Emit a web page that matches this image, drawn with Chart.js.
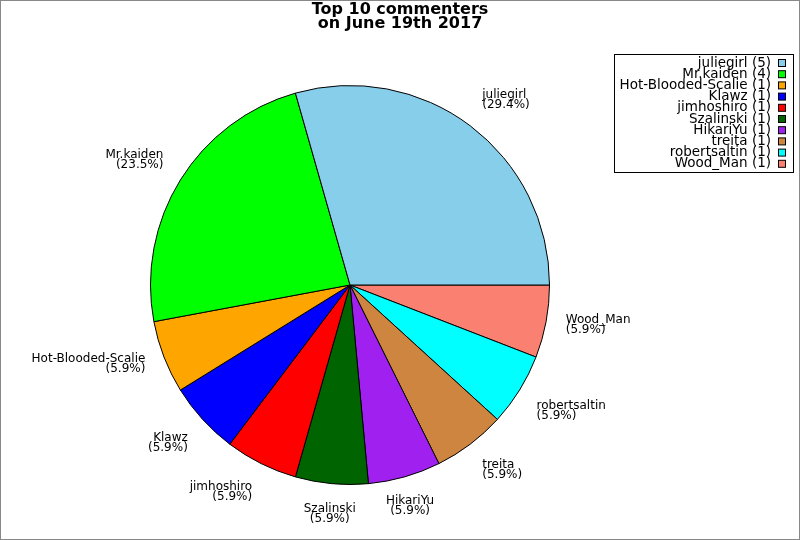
<!DOCTYPE html>
<html>
<head>
<meta charset="utf-8">
<script src="https://cdn.jsdelivr.net/npm/chart.js@4"></script>
<style>
  html, body { margin: 0; padding: 0; background: #fff; }
  #wrap { width: 800px; height: 540px; }
</style>
</head>
<body>
<div id="wrap"><canvas id="pieTopCommenters" width="800" height="540"></canvas></div>
<script>
// data, in the order the slices go round (counter-clockwise from 3 o'clock)
var commenters = ['juliegirl', 'Mr.kaiden', 'Hot-Blooded-Scalie', 'Klawz', 'jimhoshiro',
    'Szalinski', 'HikariYu', 'treita', 'robertsaltin', 'Wood_Man'];
var comments = [5, 4, 1, 1, 1, 1, 1, 1, 1, 1];
var sliceColors = ['#87CEEB', '#00FF00', '#FFA500', '#0000FF', '#FF0000',
    '#006400', '#A020F0', '#CD853F', '#00FFFF', '#FA8072'];
var titleLines = ['Top 10 commenters', 'on June 19th 2017'];

var FONT = '"DejaVu Sans", sans-serif';
var total = comments.reduce(function (a, b) { return a + b; }, 0);

// chart.js goes clockwise, so feed it reversed
var labels = commenters.slice().reverse();
var values = comments.slice().reverse();
var colors = sliceColors.slice().reverse();

var decorations = {
    id: 'decorations',
    afterDatasetsDraw: function (chart) {
        var ctx = chart.ctx;
        var meta = chart.getDatasetMeta(0);
        ctx.save();
        ctx.fillStyle = '#000';
        ctx.font = '12px ' + FONT;
        ctx.textBaseline = 'middle';

        // slice labels outside the pie, placed by compass direction
        var s = Math.sin(Math.PI / 8);
        meta.data.forEach(function (arc, i) {
            var mid = (arc.startAngle + arc.endAngle) / 2;
            var r = arc.outerRadius * 1.1;
            var c = Math.cos(mid), sn = Math.sin(mid);
            var x = arc.x + c * r;
            var y = arc.y + sn * r;
            var pct = '(' + (values[i] / total * 100).toFixed(1) + '%)';
            var align = c > s ? 'left' : (c < -s ? 'right' : 'center');
            var nameY;
            if (sn > s) nameY = y + 5;          // below the pie: hang from anchor
            else if (sn < -s) nameY = y - 15;   // above: sit on anchor
            else nameY = y - 5;
            ctx.textAlign = align;
            ctx.fillText(labels[i], x, nameY);
            ctx.fillText(pct, x, nameY + 10);
        });

        // title
        ctx.textAlign = 'center';
        ctx.font = 'bold 16px ' + FONT;
        ctx.fillText(titleLines[0], 400, 10);
        ctx.fillText(titleLines[1], 400, 24);

        // legend box
        var lx = 614.5, ly = 54.5, lw = 179, lh = 118;
        ctx.strokeStyle = '#000';
        ctx.lineWidth = 1;
        ctx.strokeRect(lx, ly, lw, lh);
        ctx.font = '13.5px ' + FONT;
        ctx.textAlign = 'right';
        commenters.forEach(function (name, i) {
            var cy = 63 + i * 11.2;
            ctx.fillStyle = '#000';
            ctx.fillText(name + ' (' + comments[i] + ')', 771, cy);
            ctx.fillStyle = sliceColors[i];
            ctx.fillRect(778.5, cy - 3.5, 7, 7);
            ctx.strokeRect(778.5, cy - 3.5, 7, 7);
        });

        // outer frame
        ctx.strokeStyle = '#888';
        ctx.strokeRect(0.5, 0.5, 799, 539);
        ctx.restore();
    }
};

var ctx = document.getElementById('pieTopCommenters').getContext('2d');
var chart = new Chart(ctx, {
    type: 'pie',
    data: {
        labels: labels,
        datasets: [{
            data: values,
            backgroundColor: colors,
            borderColor: '#000',
            borderWidth: 1
        }]
    },
    options: {
        responsive: false,
        animation: false,
        rotation: 90,
        layout: { padding: { left: 150, right: 250, top: 85, bottom: 55 } },
        plugins: {
            legend: { display: false },
            tooltip: { enabled: false },
            title: { display: false }
        }
    },
    plugins: [decorations]
});
</script>
</body>
</html>
